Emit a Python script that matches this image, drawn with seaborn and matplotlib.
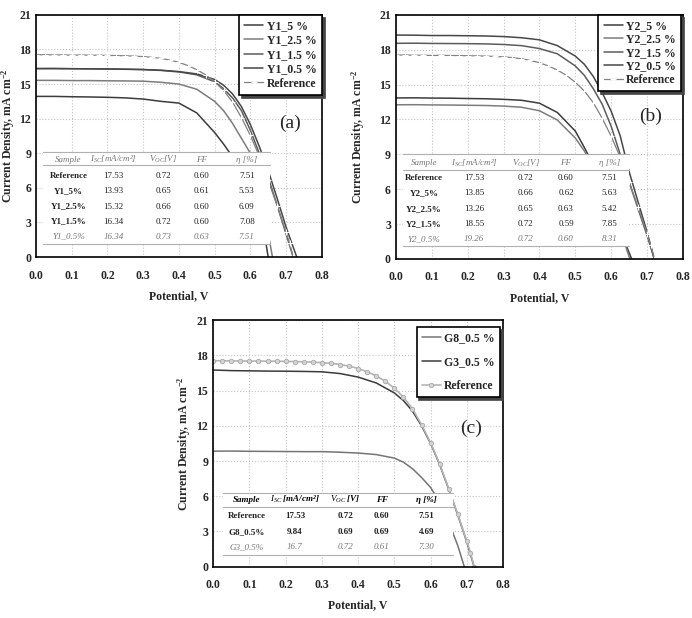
import numpy as np
import pandas as pd
import matplotlib
matplotlib.use('Agg')
import matplotlib.pyplot as plt
from matplotlib.patches import Rectangle
import seaborn as sns

sns.set_style('white')
plt.rcParams['font.family'] = ['Liberation Serif', 'DejaVu Serif']
plt.rcParams['mathtext.fontset'] = 'custom'
plt.rcParams['mathtext.rm'] = 'Liberation Serif'
plt.rcParams['mathtext.it'] = 'Liberation Serif:italic'
plt.rcParams['mathtext.bf'] = 'Liberation Serif:bold'

# ---- J-V curves (V in volt, J in mA cm-2) ----
ref_v = [0.000, 0.025, 0.050, 0.075, 0.100, 0.125, 0.150, 0.175, 0.200, 0.225,
         0.250, 0.275, 0.300, 0.325, 0.350, 0.375, 0.400, 0.425, 0.450, 0.475,
         0.500, 0.525, 0.550, 0.575, 0.600, 0.625, 0.650, 0.675, 0.700, 0.710, 0.720]
ref_j = [17.53, 17.55, 17.52, 17.53, 17.50, 17.52, 17.50, 17.50, 17.48, 17.47,
         17.45, 17.42, 17.38, 17.32, 17.22, 17.08, 16.88, 16.60, 16.25, 15.80,
         15.20, 14.45, 13.45, 12.10, 10.55, 8.75, 6.65, 4.45, 2.15, 1.20, 0.00]

v_y1_5 = [0.00, 0.05, 0.10, 0.15, 0.20, 0.25, 0.30, 0.35, 0.40, 0.45, 0.50, 0.525, 0.55, 0.575, 0.60, 0.625, 0.64, 0.65]
j_y1_5 = [13.93, 13.93, 13.90, 13.88, 13.85, 13.80, 13.70, 13.50, 13.35, 12.50, 10.80, 9.80, 8.70, 7.20, 5.50, 3.40, 1.90, 0.00]
v_y1_25 = [0.00, 0.05, 0.10, 0.15, 0.20, 0.25, 0.30, 0.35, 0.40, 0.45, 0.50, 0.525, 0.55, 0.575, 0.60, 0.62, 0.64, 0.655, 0.662]
j_y1_25 = [15.32, 15.32, 15.30, 15.30, 15.28, 15.27, 15.25, 15.15, 15.00, 14.55, 13.50, 12.70, 11.60, 10.30, 9.00, 6.50, 3.60, 1.20, 0.00]
v_y1_15 = [0.00, 0.05, 0.10, 0.15, 0.20, 0.25, 0.30, 0.35, 0.40, 0.45, 0.50, 0.525, 0.55, 0.575, 0.60, 0.625, 0.65, 0.675, 0.70, 0.72]
j_y1_15 = [16.34, 16.35, 16.33, 16.32, 16.30, 16.28, 16.25, 16.18, 16.05, 15.80, 15.20, 14.60, 13.80, 12.70, 11.00, 9.00, 6.90, 4.50, 2.00, 0.00]
v_y1_05 = [0.00, 0.05, 0.10, 0.15, 0.20, 0.25, 0.30, 0.35, 0.40, 0.45, 0.50, 0.525, 0.55, 0.575, 0.60, 0.625, 0.65, 0.675, 0.70, 0.73]
j_y1_05 = [16.34, 16.34, 16.33, 16.32, 16.31, 16.29, 16.26, 16.20, 16.08, 15.88, 15.40, 14.90, 14.15, 13.05, 11.50, 9.60, 7.50, 5.10, 2.60, 0.00]

v_y2_5 = [0.00, 0.05, 0.10, 0.15, 0.20, 0.25, 0.30, 0.35, 0.40, 0.45, 0.50, 0.525, 0.55, 0.575, 0.60, 0.625, 0.645, 0.657]
j_y2_5 = [13.85, 13.86, 13.84, 13.83, 13.80, 13.78, 13.73, 13.65, 13.40, 12.60, 11.00, 9.60, 8.10, 6.40, 4.60, 2.60, 0.90, 0.00]
v_y2_25 = [0.00, 0.05, 0.10, 0.15, 0.20, 0.25, 0.30, 0.35, 0.40, 0.45, 0.50, 0.525, 0.55, 0.575, 0.60, 0.625, 0.64, 0.652]
j_y2_25 = [13.26, 13.27, 13.25, 13.24, 13.22, 13.20, 13.15, 13.05, 12.75, 11.95, 10.40, 9.30, 7.90, 6.30, 4.50, 2.50, 1.10, 0.00]
v_y2_15 = [0.00, 0.05, 0.10, 0.15, 0.20, 0.25, 0.30, 0.35, 0.40, 0.45, 0.50, 0.525, 0.55, 0.575, 0.60, 0.625, 0.65, 0.675, 0.70, 0.72]
j_y2_15 = [18.55, 18.56, 18.54, 18.53, 18.52, 18.50, 18.45, 18.35, 18.10, 17.65, 16.60, 15.80, 14.65, 13.30, 11.40, 9.00, 6.60, 4.30, 2.00, 0.00]
v_y2_05 = [0.00, 0.05, 0.10, 0.15, 0.20, 0.25, 0.30, 0.35, 0.40, 0.45, 0.50, 0.525, 0.55, 0.575, 0.60, 0.625, 0.65, 0.675, 0.70, 0.72]
j_y2_05 = [19.26, 19.25, 19.22, 19.22, 19.20, 19.18, 19.13, 19.03, 18.85, 18.35, 17.45, 16.75, 15.70, 14.30, 12.70, 10.60, 7.50, 4.90, 2.30, 0.00]

v_g8 = [0.00, 0.05, 0.10, 0.15, 0.20, 0.25, 0.30, 0.35, 0.40, 0.45, 0.50, 0.525, 0.55, 0.575, 0.60, 0.625, 0.65, 0.675, 0.693]
j_g8 = [9.84, 9.85, 9.83, 9.82, 9.81, 9.80, 9.80, 9.75, 9.68, 9.55, 9.25, 8.90, 8.35, 7.60, 6.75, 5.50, 3.80, 1.80, 0.00]
v_g3 = [0.00, 0.05, 0.10, 0.15, 0.20, 0.25, 0.30, 0.35, 0.40, 0.45, 0.50, 0.525, 0.55, 0.575, 0.60, 0.625, 0.65, 0.675, 0.70, 0.72]
j_g3 = [16.75, 16.70, 16.68, 16.66, 16.65, 16.63, 16.60, 16.45, 16.15, 15.65, 14.80, 14.15, 13.25, 12.00, 10.50, 8.70, 6.60, 4.40, 2.10, 0.00]

# ---- inset tables ----
table_head = ['Sample', '$I_{SC}$[mA/cm²]', '$V_{OC}$[V]', 'FF', 'η [%]']
table_head_c = ['Sample', '$I_{SC}$ [mA/cm²]', '$V_{OC}$ [V]', 'FF', 'η [%]']
table_a = [['Reference', '17.53', '0.72', '0.60', '7.51'],
           ['Y1_5%', '13.93', '0.65', '0.61', '5.53'],
           ['Y1_2.5%', '15.32', '0.66', '0.60', '6.09'],
           ['Y1_1.5%', '16.34', '0.72', '0.60', '7.08'],
           ['Y1_0.5%', '16.34', '0.73', '0.63', '7.51']]
table_b = [['Reference', '17.53', '0.72', '0.60', '7.51'],
           ['Y2_5%', '13.85', '0.66', '0.62', '5.63'],
           ['Y2_2.5%', '13.26', '0.65', '0.63', '5.42'],
           ['Y2_1.5%', '18.55', '0.72', '0.59', '7.85'],
           ['Y2_0.5%', '19.26', '0.72', '0.60', '8.31']]
table_c = [['Reference', '17.53', '0.72', '0.60', '7.51'],
           ['G8_0.5%', '9.84', '0.69', '0.69', '4.69'],
           ['G3_0.5%', '16.7', '0.72', '0.61', '7.30']]

fig = plt.figure(figsize=(6.92, 6.18), dpi=100)
ax_a = fig.add_axes([0.052, 0.584, 0.413, 0.392])
ax_b = fig.add_axes([0.572, 0.581, 0.415, 0.395])
ax_c = fig.add_axes([0.308, 0.083, 0.419, 0.399])


def curve(ax, v, j, label, color, lw=1.1, **kw):
    df = pd.DataFrame({'V': v, 'J': j})
    sns.lineplot(data=df, x='V', y='J', ax=ax, color=color, lw=lw,
                 label=label, sort=False, zorder=2, **kw)


def style_axes(ax, letter, lx, ly, ylab_x):
    ax.set_xlim(0, 0.8)
    ax.set_ylim(0, 21)
    ax.set_xticks(np.arange(0, 0.81, 0.1))
    ax.set_xticklabels(['%.1f' % t for t in np.arange(0, 0.81, 0.1)])
    ax.set_yticks(range(0, 22, 3))
    ax.grid(True, color='#c4c4c4', linestyle=':', linewidth=0.8)
    for s in ax.spines.values():
        s.set_color('black')
        s.set_linewidth(1.2)
    ax.tick_params(direction='in', length=4, width=1, labelsize=8.5)
    ax.tick_params(axis='x', pad=9)
    ax.tick_params(axis='y', pad=3.5)
    for t in ax.get_xticklabels() + ax.get_yticklabels():
        t.set_fontweight('bold')
    ax.set_xlabel('Potential, V', fontsize=8.5, fontweight='bold', labelpad=6)
    ax.set_ylabel(r'Current Density, mA cm$^{\mathbf{-2}}$', fontsize=8.5,
                  fontweight='bold')
    ax.yaxis.set_label_coords(ylab_x, 0.5)
    ax.text(lx, ly, letter, fontsize=14, ha='center', va='center', zorder=6)


def draw_table(ax, head, rows, col_x, row_y, x0, x1, top, mid, bottom, bold_head=False):
    ax.add_patch(Rectangle((x0, bottom), x1 - x0, top - bottom, facecolor='white',
                           edgecolor='none', zorder=3))
    for yy in (top, mid, bottom):
        ax.plot([x0, x1], [yy, yy], color='#b0b0b0', lw=0.8, zorder=4)
    hc = 'black' if bold_head else '#777777'
    hw = 'bold' if bold_head else 'normal'
    for x, h in zip(col_x, head[:]):
        ax.text(x, row_y[0], h, fontsize=6.5, style='italic', color=hc,
                fontweight=hw, ha='center', va='center', zorder=5)
    for i, r in enumerate(rows):
        last = i == len(rows) - 1
        for k, (x, cell) in enumerate(zip(col_x, r)):
            if last:
                ax.text(x, row_y[i + 1], cell, fontsize=6.5, style='italic', color='#777777',
                        ha='center', va='center', zorder=5)
            else:
                w = 'bold' if (k == 0 or bold_head) else 'normal'
                ax.text(x, row_y[i + 1], cell, fontsize=6.5, color='#222222', fontweight=w,
                        ha='center', va='center', zorder=5)


def legend(ax, anchor, spacing):
    leg = ax.legend(loc='upper right', bbox_to_anchor=anchor, borderaxespad=0,
                    prop={'weight': 'bold', 'size': 8.5}, frameon=True, fancybox=False,
                    shadow={'color': '#444444', 'alpha': 1}, edgecolor='black',
                    framealpha=1, handlelength=1.6, handletextpad=0.3,
                    labelspacing=spacing, borderpad=0.45)
    leg.get_frame().set_linewidth(1.2)
    leg.set_zorder(7)


# (a)
curve(ax_a, v_y1_5, j_y1_5, 'Y1_5 %', '#3c3c3c')
curve(ax_a, v_y1_25, j_y1_25, 'Y1_2.5 %', '#7c7c7c')
curve(ax_a, v_y1_15, j_y1_15, 'Y1_1.5 %', '#5c5c5c')
curve(ax_a, v_y1_05, j_y1_05, 'Y1_0.5 %', '#474747')
curve(ax_a, ref_v, ref_j, 'Reference', '#808080', lw=0.9, marker='+', markersize=4,
      markeredgewidth=0.8)
style_axes(ax_a, '(a)', 0.71, 11.6, -0.066)
draw_table(ax_a, table_head, table_a, [0.091, 0.217, 0.357, 0.464, 0.59],
           [8.45, 7.06, 5.73, 4.37, 3.07, 1.77], 0.02, 0.655, 9.1, 7.95, 1.1)
legend(ax_a, (1, 1), 0.2)

# (b)
curve(ax_b, v_y2_5, j_y2_5, 'Y2_5 %', '#3c3c3c')
curve(ax_b, v_y2_25, j_y2_25, 'Y2_2.5 %', '#7c7c7c')
curve(ax_b, v_y2_15, j_y2_15, 'Y2_1.5 %', '#5c5c5c')
curve(ax_b, v_y2_05, j_y2_05, 'Y2_0.5 %', '#474747')
curve(ax_b, ref_v, ref_j, 'Reference', '#808080', lw=0.9, marker='+', markersize=4,
      markeredgewidth=0.8)
style_axes(ax_b, '(b)', 0.71, 12.3, -0.1)
draw_table(ax_b, table_head, table_b, [0.079, 0.218, 0.362, 0.474, 0.595],
           [8.25, 6.94, 5.65, 4.30, 3.01, 1.70], 0.019, 0.65, 9.0, 7.65, 1.1)
legend(ax_b, (0.994, 1), 0.12)

# (c)
curve(ax_c, v_g8, j_g8, 'G8_0.5 %', '#747474')
curve(ax_c, v_g3, j_g3, 'G3_0.5 %', '#3a3a3a')
curve(ax_c, ref_v, ref_j, 'Reference', '#b4b4b4', lw=1.2, marker='o', markersize=3.2,
      markerfacecolor='#d4d4d4', markeredgecolor='#a8a8a8', markeredgewidth=0.6)
style_axes(ax_c, '(c)', 0.713, 11.8, -0.068)
draw_table(ax_c, table_head_c, table_c, [0.093, 0.226, 0.364, 0.465, 0.589],
           [5.7, 4.3, 2.95, 1.67], 0.028, 0.663, 6.3, 5.1, 1.0, bold_head=True)
legend(ax_c, (0.99, 0.972), 1.0)

plt.savefig('out.png', dpi=100)
